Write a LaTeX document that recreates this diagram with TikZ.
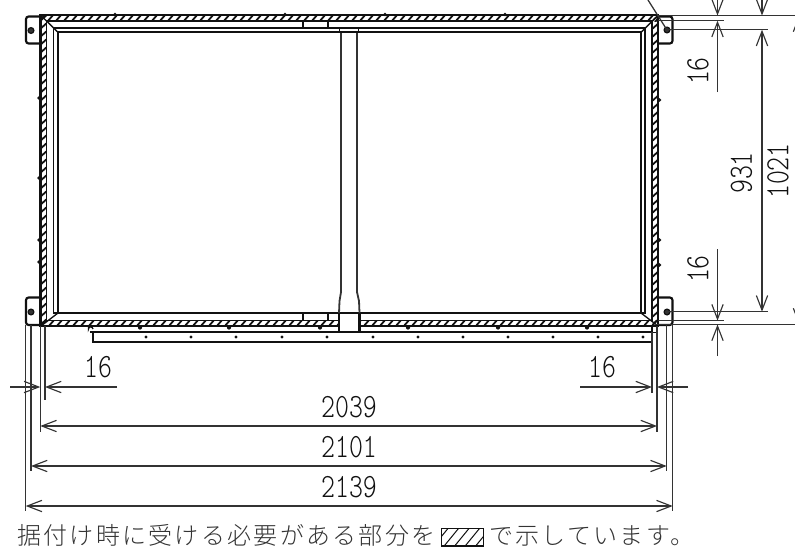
\documentclass[tikz,border=0pt]{standalone}
\usepackage{fontspec}
\usetikzlibrary{arrows.meta}
\setmonofont{Latin Modern Mono Light}
\newfontfamily\cjk[UprightFont=* Light,LetterSpace=9.5]{Noto Sans CJK JP}
\definecolor{ink}{HTML}{111111}
\definecolor{dimc}{HTML}{333333}
\tikzset{
  heavy/.style={draw=ink,line width=1.6pt},
  med/.style={draw=ink,line width=1pt},
  hatchline/.style={draw=ink,line width=1.35pt},
  ext/.style={draw=dimc,line width=.95pt},
  column/.style={draw=dimc,line width=1.35pt},
  dimline/.style={draw=dimc,line width=.9pt,>={Straight Barb[length=11pt,width=8.5pt,line width=.85pt]}},
  num/.style={inner sep=0pt,text=ink,font=\ttfamily\fontsize{25.5}{25.5}\selectfont},
  dotmark/.style={fill=ink,draw=none},
  hole/.style={draw=ink,line width=.9pt,fill=dimc},
}
\newcommand{\narrow}[1]{\scalebox{.78}[1]{#1}}
\begin{document}
\begin{tikzpicture}[x=.75pt,y=-.75pt]
\useasboundingbox (0,0) rectangle (795,550);
\fill[white] (0,0) rectangle (795,550);

% hatching of the frame
\begin{scope}
\clip (41,15.5) rectangle (658,21);
\foreach \i in {0,8,...,630}{\draw[hatchline] (39+\i,22)--(46+\i,14);}
\end{scope}
\begin{scope}
\clip (41,320.5) rectangle (338,326);
\foreach \i in {0,8,...,310}{\draw[hatchline] (40+\i,327)--(47+\i,319);}
\end{scope}
\begin{scope}
\clip (360,320.5) rectangle (658,326);
\foreach \i in {0,8,...,310}{\draw[hatchline] (355+\i,327)--(362+\i,319);}
\end{scope}
\begin{scope}
\clip (41,15) rectangle (46.5,326);
\foreach \i in {0,8,...,320}{\draw[hatchline] (39,22+\i)--(48,14+\i);}
\end{scope}
\begin{scope}
\clip (652.5,15) rectangle (658,326);
\foreach \i in {0,8,...,320}{\draw[hatchline] (651,22+\i)--(660,14+\i);}
\end{scope}

% frame outlines
\draw[heavy] (40.5,15.3) -- (658,15.3) -- (658,326) -- (40.5,326) -- cycle;
\draw[med] (46.8,21) -- (652,21) -- (652,320.3) -- (46.8,320.3) -- cycle;
\draw[med] (53.5,28) -- (645,28) -- (645,313) -- (53.5,313) -- cycle;
\draw[heavy] (58,32.3) -- (641,32.3) -- (641,313) -- (58,313) -- cycle;
\draw[med] (41,15.5) -- (58,32.3) (658,15.5) -- (641,32.3) (41,326) -- (58,313) (658,326) -- (641,313);

% ribs and central column
\draw[med] (303,21) -- (303,28) (328,21) -- (328,28) (339.5,28) -- (339.5,33) (358.5,28) -- (358.5,33);
\draw[med] (303,313) -- (303,320.3) (328,313) -- (328,320.3);
\draw[column] (341,33) -- (341,292) -- (339.5,301) -- (339,313);
\draw[column] (357,33) -- (357,292) -- (359,301) -- (359.5,313);
\fill[white] (339.5,314) rectangle (359,331);
\draw[heavy] (339,313) -- (339,332) (359.5,313) -- (359.5,332);

% lower channel
\draw[med] (90,332) -- (652,332);
\draw[heavy] (93,332) -- (93,342) -- (652,342) -- (652,326.5);
\draw[med] (88.5,326.5) -- (88.5,329) arc[start angle=180,end angle=360,radius=2.2];
\draw[med] (652,326.5) rectangle (656.5,332.5);

% brackets
\draw[heavy,rounded corners=2pt] (41,16.5) -- (26,16.5) -- (26,43.5) -- (41,43.5);
\draw[heavy,rounded corners=2pt] (41,297.5) -- (26,297.5) -- (26,325) -- (41,325);
\draw[heavy,rounded corners=2pt] (658,16.5) -- (672.5,16.5) -- (672.5,43.5) -- (658,43.5);
\draw[heavy,rounded corners=2pt] (658,297.5) -- (672.5,297.5) -- (672.5,325) -- (658,325);
\foreach \p in {(31,30.5),(31,312),(667,30),(667,312)}{\filldraw[hole] \p circle (2.9);}

% rivets on the frame
\foreach \x in {146,191,236,282,327,373,418,463,508,553,598,643}{\fill[dotmark] (\x,337) circle (1.6);}
\foreach \x in {140,229,320,408,498,587}{\fill[dotmark] (\x,327.5) circle (2.1);}
\foreach \x in {115,285,385,505}{\fill[dotmark] (\x,14.5) circle (1.8);}
\foreach \y in {98,178,240,262}{\fill[dotmark] (39,\y) circle (1.9);}
\foreach \y in {100,240,265}{\fill[dotmark] (659.5,\y) circle (1.9);}

% leader
\draw[ext] (648,0) -- (667,30);

% extension lines, right
\draw[ext] (658,15.5) -- (795,15.5);
\draw[ext] (658,20.7) -- (724,20.7);
\draw[ext] (667,29.7) -- (768,29.7);
\draw[ext] (667,311.7) -- (768,311.7);
\draw[ext] (658,320.6) -- (724,320.6);
\draw[ext] (655,324.5) -- (795,324.5);

% vertical dimensions
\begin{scope}
\clip (0,0) rectangle (795,550);
\draw[dimline,->] (717.5,-5) -- (717.5,15.5);
\draw[dimline,->] (717.5,92) -- (717.5,20.7);
\draw[dimline,->] (762,-5) -- (762,15.5);
\draw[dimline,<->] (762,29.7) -- (762,311.7);
\draw[dimline,->] (717.5,249) -- (717.5,320.6);
\draw[dimline,->] (717.5,356) -- (717.5,324.5);
\draw[dimline,->] (799,100) -- (799,15.5);
\draw[dimline,->] (799,250) -- (799,324.5);
\end{scope}

\node[num,rotate=90] (t16a) at (698,71) {\narrow{16}};
\node[num,rotate=90] (t16b) at (698,269) {\narrow{16}};
\node[num,rotate=90] (t931) at (741.5,173) {\narrow{931}};
\node[num,rotate=90] (t1021) at (778,171) {\narrow{1021}};

% extension lines, bottom
\draw[ext] (25.7,325) -- (25.7,511);
\draw[ext] (31,325) -- (31,471);
\draw[ext] (40.3,326) -- (40.3,432);
\draw[ext] (45,326) -- (45,400);
\draw[ext] (652,332) -- (652,393);
\draw[ext] (657,326) -- (657,432);
\draw[ext] (666.7,325) -- (666.7,471);
\draw[ext] (672.7,325) -- (672.7,511);

% horizontal dimensions
\draw[dimline,->] (10,387) -- (40.3,387);
\draw[dimline,->] (117,387) -- (45,387);
\draw[dimline,->] (580,387) -- (652,387);
\draw[dimline,->] (688,387) -- (657,387);
\draw[dimline,<->] (40.3,426) -- (657,426);
\draw[dimline,<->] (31,466) -- (666.7,466);
\draw[dimline,<->] (25.7,506) -- (672.7,506);

\node[num] (b16l) at (98,367) {\narrow{16}};
\node[num] (b16r) at (602,367) {\narrow{16}};
\node[num] (t2039) at (349,407) {\narrow{2039}};
\node[num] (t2101) at (349,447) {\narrow{2101}};
\node[num] (t2139) at (349,487) {\narrow{2139}};

% note
\node[anchor=west,inner sep=0pt,text=dimc] (note1) at (17,535.5) {\cjk\fontsize{18}{18}\selectfont 据付け時に受ける必要がある部分を};
\node[anchor=west,inner sep=0pt,text=dimc] (note2) at (489,535.5) {\cjk\fontsize{18}{18}\selectfont で示しています。};
\begin{scope}
\clip (441.5,528.5) rectangle (483.5,546);
\foreach \i in {0,10.5,...,55}{\draw[draw=ink,line width=.75pt] (432+\i,548)--(450+\i,526);}
\end{scope}
\draw[draw=ink,line width=.9pt] (441.5,528.5) rectangle (483.5,546);
\end{tikzpicture}
\end{document}
